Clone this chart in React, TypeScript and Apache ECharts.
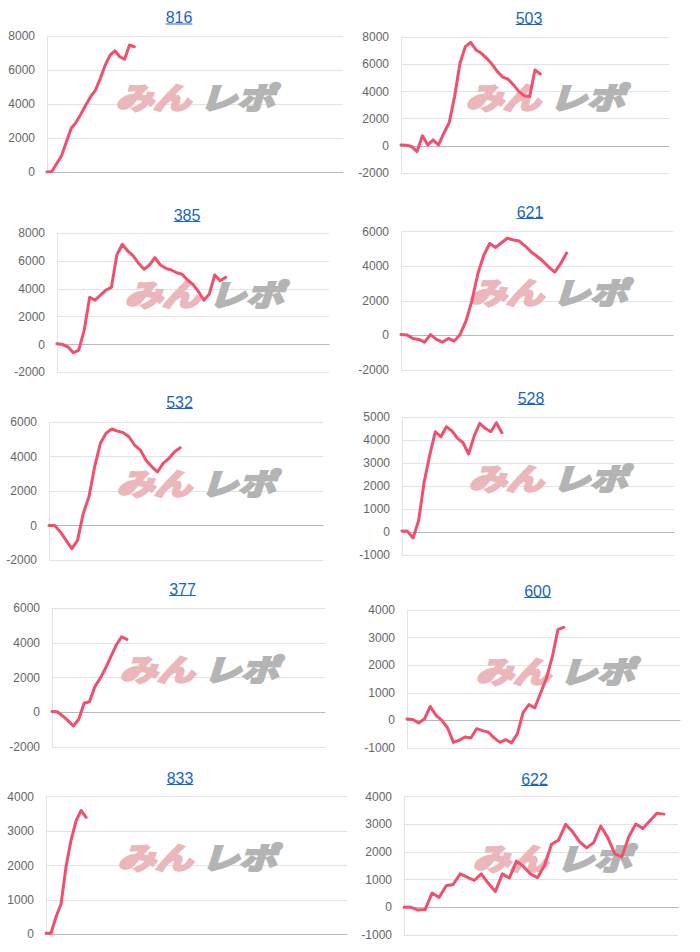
import React, { useEffect, useRef } from 'react';
import * as echarts from 'echarts';

// ---- data ----
const titles = ['816', '503', '385', '621', '532', '528', '377', '600', '833', '622'];
const yMins = [0, -2000, -2000, -2000, -2000, -1000, -2000, -1000, 0, -1000];
const yMaxs = [8000, 8000, 8000, 6000, 6000, 5000, 6000, 4000, 4000, 4000];
const yIntervals = [2000, 2000, 2000, 2000, 2000, 1000, 2000, 1000, 1000, 1000];
const pointCounts = [62, 51, 51, 47, 49, 50, 52, 48, 61, 40];

const s816 = [0, 30, 500, 960, 1780, 2570, 2920, 3410, 3940, 4430, 4820, 5510, 6290, 6880, 7130, 6780, 6630, 7470, 7370];
const s503 = [70, 50, -50, -420, 740, 70, 440, 70, 930, 1720, 3630, 6090, 7310, 7630, 7070, 6820, 6450, 6010, 5470, 5060, 4910, 4490, 4000, 3700, 3630, 5590, 5300];
const s385 = [50, 0, -170, -600, -410, 1030, 3390, 3190, 3560, 3910, 4110, 6440, 7210, 6730, 6370, 5840, 5410, 5720, 6250, 5720, 5480, 5360, 5160, 5050, 4640, 4330, 3800, 3190, 3630, 5000, 4590, 4830];
const s621 = [50, 30, -175, -234, -390, 50, -234, -390, -175, -330, 60, 840, 2010, 3570, 4640, 5320, 5090, 5360, 5620, 5520, 5460, 5170, 4830, 4580, 4290, 3950, 3660, 4150, 4770];
const s532 = [0, 0, -370, -860, -1340, -860, 700, 1670, 3420, 4780, 5360, 5610, 5490, 5400, 5160, 4680, 4390, 3800, 3420, 3120, 3610, 3900, 4290, 4520];
const s528 = [50, 30, -260, 510, 2190, 3350, 4370, 4150, 4590, 4410, 4080, 3890, 3400, 4180, 4740, 4520, 4370, 4760, 4330];
const s377 = [50, 30, -210, -480, -790, -400, 520, 610, 1480, 1960, 2540, 3210, 3880, 4360, 4210];
const s600 = [50, 30, -95, 50, 505, 180, 0, -275, -795, -720, -600, -635, -300, -370, -430, -635, -795, -700, -815, -490, 290, 570, 450, 990, 1530, 2290, 3300, 3370];
const s833 = [30, 30, 510, 880, 1970, 2740, 3300, 3600, 3400];
const s622 = [0, 0, -100, -80, 520, 360, 780, 825, 1210, 1090, 970, 1210, 870, 570, 1210, 1060, 1670, 1480, 1210, 1070, 1520, 2280, 2430, 3000, 2730, 2370, 2150, 2340, 2940, 2520, 1940, 1820, 2550, 3010, 2850, 3130, 3400, 3370];

const seriesData = [s816, s503, s385, s621, s532, s528, s377, s600, s833, s622];

// ---- layout (pixels) ----
// [left, top, right, bottom] of each plot area
const plotBoxes = [
  [47, 36, 343, 172],
  [401, 37.3, 669, 173],
  [57, 233.3, 329, 372.3],
  [401, 231.7, 673, 370],
  [49, 422.3, 323, 560],
  [402, 417.3, 674, 555],
  [52, 608.3, 325, 747],
  [407, 610, 680, 748],
  [46, 796.7, 347, 934.3],
  [404, 796.7, 678, 935],
];
const titlePos = [
  [179, 17.5], [529, 18], [187, 215], [530, 212], [179.5, 402],
  [531, 398], [182.5, 589], [537.5, 591], [180, 778], [534.5, 779],
];
const markPos = [
  [195, 96], [545, 96], [204, 293], [548, 291], [196, 482],
  [548, 477], [199, 668], [555, 670], [197, 856], [552, 857],
];

const FONT = '"Liberation Sans", Arial, Helvetica, sans-serif';
const LINE_COLOR = '#f0506e';
const LINK_COLOR = '#1a66c4';
const MARK_PINK = '#ebb7bb';
const MARK_GRAY = '#b4b4b4';

export default function App() {
  const ref = useRef<HTMLDivElement>(null);

  useEffect(() => {
    if (!ref.current) return;
    const chart = echarts.init(ref.current, null, { renderer: 'svg' });

    const grids: any[] = [];
    const xAxes: any[] = [];
    const yAxes: any[] = [];
    const series: any[] = [];
    const graphics: any[] = [];

    for (let i = 0; i < titles.length; i++) {
      const [l, t, r, b] = plotBoxes[i];
      grids.push({
        left: l,
        top: t,
        width: r - l,
        height: b - t,
        containLabel: false,
        outerBoundsMode: 'none',
      });
      const cats: string[] = [];
      for (let k = 1; k <= pointCounts[i]; k++) cats.push(String(k));
      xAxes.push({
        type: 'category',
        gridIndex: i,
        data: cats,
        boundaryGap: false,
        axisLabel: { show: false },
        axisTick: { show: false },
        axisLine: { show: true, onZero: true, lineStyle: { color: '#b8b8b8', width: 1 } },
        splitLine: { show: false },
      });
      yAxes.push({
        type: 'value',
        gridIndex: i,
        min: yMins[i],
        max: yMaxs[i],
        interval: yIntervals[i],
        axisLabel: {
          color: '#666',
          fontSize: 12,
          fontFamily: FONT,
          margin: 12,
          formatter: (v: number) => String(v),
        },
        axisLine: { show: true, lineStyle: { color: '#e3e3e3', width: 1 } },
        axisTick: { show: false },
        splitLine: { show: true, lineStyle: { color: '#e3e3e3', width: 1 } },
      });
      series.push({
        type: 'line',
        xAxisIndex: i,
        yAxisIndex: i,
        data: seriesData[i],
        symbol: 'none',
        z: 5,
        lineStyle: { color: LINE_COLOR, width: 3, join: 'round', cap: 'round' },
        itemStyle: { color: LINE_COLOR },
      });

      const [tx, ty] = titlePos[i];
      const w = titles[i].length * 8.9;
      graphics.push({
        type: 'text',
        x: tx,
        y: ty,
        z: 10,
        style: {
          text: titles[i],
          fill: LINK_COLOR,
          font: `16px ${FONT}`,
          textAlign: 'center',
          textVerticalAlign: 'middle',
        },
      });
      graphics.push({
        type: 'line',
        z: 10,
        shape: { x1: tx - w / 2, y1: ty + 6.5, x2: tx + w / 2, y2: ty + 6.5 },
        style: { stroke: LINK_COLOR, lineWidth: 1 },
      });

      const [mx, my] = markPos[i];
      graphics.push({
        type: 'text',
        x: mx - 42,
        y: my,
        z: 1,
        scaleX: 1.25,
        style: {
          text: 'みん',
          fill: MARK_PINK,
          stroke: MARK_PINK,
          lineWidth: 2.5,
          font: `italic bold 30px "Noto Sans CJK JP", sans-serif`,
          textAlign: 'center',
          textVerticalAlign: 'middle',
        },
      });
      graphics.push({
        type: 'text',
        x: mx + 42,
        y: my,
        z: 1,
        scaleX: 1.25,
        style: {
          text: 'レポ',
          fill: MARK_GRAY,
          stroke: MARK_GRAY,
          lineWidth: 2.5,
          font: `italic bold 30px "Noto Sans CJK JP", sans-serif`,
          textAlign: 'center',
          textVerticalAlign: 'middle',
        },
      });
    }

    chart.setOption({
      animation: false,
      backgroundColor: '#ffffff',
      grid: grids,
      xAxis: xAxes,
      yAxis: yAxes,
      series,
      graphic: graphics,
    });

    return () => {
      chart.dispose();
    };
  }, []);

  return (
    <div
      ref={ref}
      style={{ position: 'absolute', left: 0, top: 0, width: 700, height: 952, background: '#fff' }}
    />
  );
}
